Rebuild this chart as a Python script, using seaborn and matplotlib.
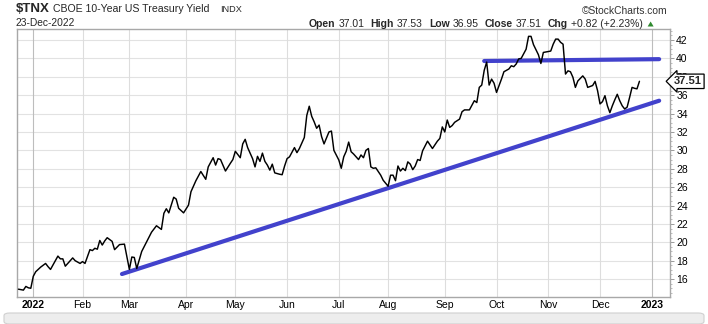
import matplotlib
matplotlib.use("Agg")
import numpy as np
import pandas as pd
import matplotlib.pyplot as plt
import seaborn as sns
from matplotlib.patches import FancyBboxPatch, Polygon

# Daily closes of $TNX (yield x 10)
dates = [
    "2021-12-23", "2021-12-27", "2021-12-28", "2021-12-29", "2021-12-30", "2021-12-31",
    "2022-01-03", "2022-01-04", "2022-01-06", "2022-01-10", "2022-01-11", "2022-01-12",
    "2022-01-18", "2022-01-19", "2022-01-20", "2022-01-21", "2022-01-26", "2022-01-27",
    "2022-01-28", "2022-01-31", "2022-02-01", "2022-02-02", "2022-02-04", "2022-02-07",
    "2022-02-08", "2022-02-09", "2022-02-10", "2022-02-11", "2022-02-14", "2022-02-15",
    "2022-02-17", "2022-02-18", "2022-02-23", "2022-02-25", "2022-03-01", "2022-03-02",
    "2022-03-03", "2022-03-04", "2022-03-08", "2022-03-10", "2022-03-14", "2022-03-16",
    "2022-03-18", "2022-03-21", "2022-03-22", "2022-03-23", "2022-03-25", "2022-03-28",
    "2022-03-29", "2022-03-31", "2022-04-04", "2022-04-05", "2022-04-07", "2022-04-11",
    "2022-04-13", "2022-04-14", "2022-04-19", "2022-04-20", "2022-04-21", "2022-04-22",
    "2022-04-26", "2022-04-28", "2022-04-29", "2022-05-02", "2022-05-04", "2022-05-05",
    "2022-05-06", "2022-05-09", "2022-05-11", "2022-05-12", "2022-05-13", "2022-05-16",
    "2022-05-17", "2022-05-18", "2022-05-19", "2022-05-20", "2022-05-23", "2022-05-24",
    "2022-05-26", "2022-05-27", "2022-05-31", "2022-06-01", "2022-06-02", "2022-06-06",
    "2022-06-07", "2022-06-08", "2022-06-09", "2022-06-10", "2022-06-13", "2022-06-14",
    "2022-06-15", "2022-06-16", "2022-06-17", "2022-06-21", "2022-06-22", "2022-06-23",
    "2022-06-27", "2022-06-28", "2022-06-29", "2022-07-01", "2022-07-05", "2022-07-06",
    "2022-07-07", "2022-07-08", "2022-07-11", "2022-07-12", "2022-07-13", "2022-07-14",
    "2022-07-15", "2022-07-18", "2022-07-19", "2022-07-20", "2022-07-21", "2022-07-22",
    "2022-07-25", "2022-07-27", "2022-07-28", "2022-08-01", "2022-08-02", "2022-08-03",
    "2022-08-04", "2022-08-05", "2022-08-08", "2022-08-09", "2022-08-10", "2022-08-11",
    "2022-08-12", "2022-08-15", "2022-08-16", "2022-08-17", "2022-08-18", "2022-08-19",
    "2022-08-23", "2022-08-25", "2022-08-29", "2022-08-30", "2022-08-31", "2022-09-01",
    "2022-09-02", "2022-09-06", "2022-09-07", "2022-09-08", "2022-09-12", "2022-09-13",
    "2022-09-14", "2022-09-16", "2022-09-19", "2022-09-20", "2022-09-21", "2022-09-22",
    "2022-09-23", "2022-09-26", "2022-09-27", "2022-09-28", "2022-09-29", "2022-09-30",
    "2022-10-03", "2022-10-05", "2022-10-06", "2022-10-10", "2022-10-11", "2022-10-12",
    "2022-10-13", "2022-10-14", "2022-10-17", "2022-10-19", "2022-10-20", "2022-10-21",
    "2022-10-24", "2022-10-26", "2022-10-27", "2022-10-28", "2022-10-31", "2022-11-02",
    "2022-11-03", "2022-11-04", "2022-11-07", "2022-11-08", "2022-11-09", "2022-11-10",
    "2022-11-11", "2022-11-14", "2022-11-15", "2022-11-16", "2022-11-17", "2022-11-21",
    "2022-11-22", "2022-11-23", "2022-11-28", "2022-11-29", "2022-11-30", "2022-12-01",
    "2022-12-02", "2022-12-05", "2022-12-06", "2022-12-07", "2022-12-08", "2022-12-09",
    "2022-12-12", "2022-12-13", "2022-12-14", "2022-12-15", "2022-12-16", "2022-12-19",
    "2022-12-20", "2022-12-21", "2022-12-22", "2022-12-23",
]
closes = [
    14.9, 14.85, 14.8, 15.2, 15.05, 15.0,
    16.3, 16.8, 17.3, 17.7, 17.35, 17.05,
    18.5, 18.2, 18.2, 17.4, 18.3, 18.0,
    17.85, 17.7, 17.9, 17.7, 19.2, 19.1,
    19.35, 19.25, 20.2, 19.7, 20.15, 20.5,
    20.1, 19.2, 19.75, 19.8, 17.05, 18.4,
    18.35, 17.15, 19.0, 20.05, 21.1, 21.8,
    21.4, 23.15, 23.65, 23.2, 24.9, 24.7,
    23.7, 23.2, 24.05, 25.5, 26.7, 27.7,
    26.85, 28.2, 29.2, 28.4, 29.1, 29.0,
    27.75, 28.6, 29.0, 29.9, 29.2, 30.7,
    31.2, 30.3, 29.1, 28.2, 29.35, 28.8,
    29.7, 28.8, 28.4, 27.85, 28.5, 27.55,
    27.4, 27.35, 28.3, 29.1, 29.3, 30.3,
    29.75, 30.2, 30.8, 31.4, 33.8, 34.8,
    33.7, 33.1, 32.4, 32.75, 31.5, 30.7,
    32.0, 32.1, 30.0, 28.95, 28.05, 29.3,
    29.9, 30.9, 29.85, 29.6, 29.3, 29.0,
    29.5, 29.2, 30.0, 30.2, 28.2, 28.05,
    28.1, 27.3, 26.75, 26.1, 27.3, 27.3,
    26.7, 28.3, 27.75, 28.05, 27.8, 28.75,
    28.5, 27.9, 28.3, 29.0, 28.9, 29.95,
    31.0, 30.2, 31.0, 31.3, 32.55, 32.0,
    33.3, 32.5, 32.7, 33.05, 33.4, 34.2,
    34.4, 34.4, 34.9, 35.4, 35.2, 36.85,
    37.1, 38.7, 39.6, 37.1, 37.75, 37.3,
    36.3, 37.75, 38.55, 38.85, 39.2, 39.1,
    39.4, 39.95, 40.0, 41.0, 42.4, 42.4,
    41.5, 40.4, 39.45, 40.65, 40.7, 40.8,
    41.55, 42.1, 42.1, 41.75, 41.55, 38.3,
    38.65, 38.55, 37.95, 36.85, 37.55, 38.1,
    37.75, 36.85, 37.05, 37.5, 36.5, 35.05,
    35.3, 35.95, 34.85, 34.1, 34.85, 35.5,
    36.1, 35.4, 34.85, 34.5, 34.7, 35.75,
    36.85, 36.75, 36.69, 37.51,
]

# Hand-drawn trendlines
support_dates = ["2022-02-24", "2023-01-06"]
support_values = [16.55, 35.4]
resistance_dates = ["2022-09-26", "2023-01-06"]
resistance_values = [39.72, 39.92]

month_starts = ["2022-01-01", "2022-02-01", "2022-03-01", "2022-04-01", "2022-05-01",
                "2022-06-01", "2022-07-01", "2022-08-01", "2022-09-01", "2022-10-01",
                "2022-11-01", "2022-12-01", "2023-01-01"]
month_labels = ["2022", "Feb", "Mar", "Apr", "May", "Jun", "Jul", "Aug", "Sep",
                "Oct", "Nov", "Dec", "2023"]
y_ticks = [16, 18, 20, 22, 24, 26, 28, 30, 32, 34, 36, 38, 40, 42]

header = [("Open", True), ("37.01", False), ("High", True), ("37.53", False),
          ("Low", True), ("36.95", False), ("Close", True), ("37.51", False),
          ("Chg", True), ("+0.82 (+2.23%)", False)]
last_close = 37.51

sns.set_style("white")
plt.rcParams["font.family"] = ["Liberation Sans", "DejaVu Sans"]

# Trading-session calendar: x positions are session numbers, so weekends and
# holidays take no space on the axis.
holidays = ["2021-12-24", "2022-01-17", "2022-02-21", "2022-04-15", "2022-05-30",
            "2022-06-20", "2022-07-04", "2022-09-05", "2022-11-24", "2022-12-26",
            "2023-01-02"]
cal = pd.bdate_range("2021-12-15", "2023-01-31", freq="C", holidays=holidays)
origin = cal.get_loc(pd.Timestamp("2022-01-03"))


def session(d):
    return cal.get_loc(pd.Timestamp(d)) - origin


def first_session(month_start):
    ts = pd.Timestamp(month_start)
    return int(np.searchsorted(cal, ts)) - origin


W, H = 708, 324
fig = plt.figure(figsize=(W / 100, H / 100), dpi=100)
fig.patch.set_facecolor("white")
ax = fig.add_axes([17 / W, 1 - 297 / H, (670 - 17) / W, (297 - 29) / H])

price = pd.DataFrame({"session": [session(d) for d in dates], "close": closes})
support = pd.DataFrame({"session": [session(d) for d in support_dates], "value": support_values})
resist = pd.DataFrame({"session": [session(d) for d in resistance_dates], "value": resistance_values})

xticks = [first_session(m) for m in month_starts]

# grid
for yt in y_ticks:
    ax.axhline(yt, color="#e2e2e2", lw=0.8, zorder=0)
for xt, lab in zip(xticks, month_labels):
    ax.axvline(xt, color="#bdbdbd" if lab.isdigit() else "#dddddd", lw=0.8, zorder=0)

trend_color = "#4242cc"
sns.lineplot(data=support, x="session", y="value", ax=ax, color=trend_color,
             lw=3.0, solid_capstyle="round", zorder=2, estimator=None)
sns.lineplot(data=resist, x="session", y="value", ax=ax, color=trend_color,
             lw=3.0, solid_capstyle="round", zorder=2, estimator=None)
sns.lineplot(data=price, x="session", y="close", ax=ax, color="black", lw=1.05,
             zorder=3, estimator=None)

ax.set_xlim(-6.6, 258.4)
ax.set_ylim(14.05, 43.2)
ax.set_xlabel("")
ax.set_ylabel("")

ax.set_xticks(xticks)
ax.set_xticklabels(month_labels)
for lbl in ax.get_xticklabels():
    if lbl.get_text().isdigit():
        lbl.set_fontweight("bold")
ax.tick_params(axis="x", length=0, pad=2.5, labelsize=7.5, colors="black")

ax.yaxis.tick_right()
ax.set_yticks(y_ticks)
ax.set_yticks(np.arange(14.5, 43.2, 0.5), minor=True)
ax.tick_params(axis="y", which="major", length=3, width=0.7, color="#9a9a9a",
               pad=1.5, labelsize=7.5, labelcolor="black", direction="out")
ax.tick_params(axis="y", which="minor", length=1.5, width=0.6, color="#b0b0b0",
               direction="out")
for s in ax.spines.values():
    s.set_visible(True)
    s.set_color("#a8a8a8")
    s.set_linewidth(1.0)


def fx(px):
    return px / W


def fy(py):
    return 1 - py / H


# title block
fig.text(fx(16), fy(9), "$TNX", fontsize=9.5, fontweight="bold", va="center", ha="left")
fig.text(fx(53), fy(9.5), "CBOE 10-Year US Treasury Yield", fontsize=7.6, va="center", ha="left")
fig.text(fx(220), fy(9.5), "INDX", fontsize=6.6, va="center", ha="left")
fig.text(fx(16), fy(23.5), "23-Dec-2022", fontsize=7.4, va="center", ha="left")
fig.text(fx(668), fy(11), "\u00a9StockCharts.com", fontsize=7.4, va="center", ha="right",
         color="#333333")

# OHLC header, laid out left to right
renderer = fig.canvas.get_renderer()
x = 309.0
for i, (txt, bold) in enumerate(header):
    t = fig.text(fx(x), fy(24), txt, fontsize=7.5, va="center", ha="left",
                 fontweight="bold" if bold else "normal")
    w = t.get_window_extent(renderer).width
    x += w + (3 if bold else 6)

# up-arrow after the change value
tri = Polygon([[fx(x - 1), fy(26.5)], [fx(x + 5), fy(26.5)], [fx(x + 2), fy(21.5)]],
              closed=True, transform=fig.transFigure, fc="#2f8a2f", ec="none")
fig.patches.append(tri)

# last-close tag on the price axis (covers the neighbouring tick label)
tag_y = ax.transData.transform((0, last_close))[1]
fig.text(fx(674), tag_y / fig.bbox.height, f"{last_close:.2f}", fontsize=8.0,
         fontweight="bold", va="center", ha="left", zorder=10,
         bbox=dict(boxstyle="larrow,pad=0.2", fc="white", ec="black", lw=0.9))

# toolbar strip along the bottom edge
bar = FancyBboxPatch((fx(4), fy(324)), fx(700), 11 / H,
                     boxstyle="round,pad=0,rounding_size=0.008",
                     transform=fig.transFigure, fc="#ededed", ec="#d0d0d0", lw=0.8)
fig.patches.append(bar)

fig.savefig("out.png", dpi=100)
